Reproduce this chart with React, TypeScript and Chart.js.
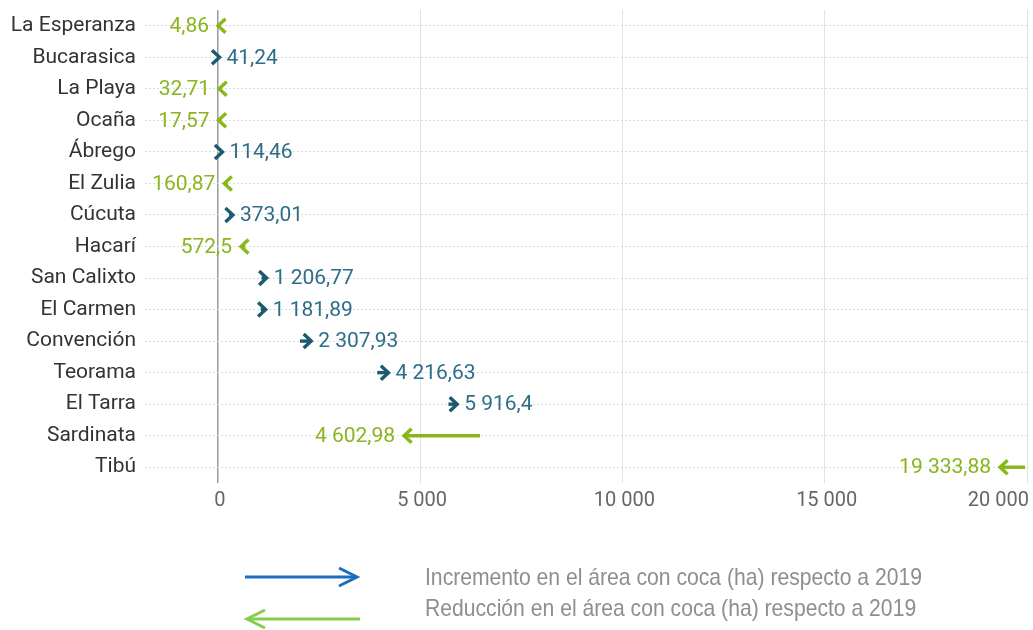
import React, { useEffect, useRef } from "react";
import { Chart, registerables } from "chart.js";

Chart.register(...registerables);

const municipios = [
  "La Esperanza", "Bucarasica", "La Playa", "Ocaña", "Ábrego", "El Zulia", "Cúcuta", "Hacarí",
  "San Calixto", "El Carmen", "Convención", "Teorama", "El Tarra", "Sardinata", "Tibú",
];
// Estimated 2019 values (arrow tails)
const area2019 = [60, 10, 90, 80, 50, 250, 280, 680, 1080, 1060, 2030, 3940, 5700, 6480, 19950];
// 2020 values (arrow heads, labelled)
const area2020 = [4.86, 41.24, 32.71, 17.57, 114.46, 160.87, 373.01, 572.5, 1206.77, 1181.89, 2307.93, 4216.63, 5916.4, 4602.98, 19333.88];
const xTicks = [0, 5000, 10000, 15000, 20000];
const legendLabels = [
  "Incremento en el área con coca (ha) respecto a 2019",
  "Reducción en el área con coca (ha) respecto a 2019",
];

const TEAL_ARROW = "#1d5a70";
const TEAL_TEXT = "#2e6d88";
const GREEN_ARROW = "#86b81a";
const GREEN_TEXT = "#8ab51f";
const LEGEND_BLUE = "#1b6dbd";
const LEGEND_GREEN = "#86cc4e";

function fmt(v: number): string {
  const s = String(v);
  const [ip, dp] = s.split(".");
  const intFmt = ip.replace(/\B(?=(\d{3})+(?!\d))/g, " ");
  return dp ? intFmt + "," + dp : intFmt;
}

function drawArrow(ctx: CanvasRenderingContext2D, x0: number, x1: number, y: number, color: string, lw: number, hl: number, hh: number) {
  const dir = x1 >= x0 ? 1 : -1;
  ctx.strokeStyle = color;
  ctx.lineWidth = lw;
  ctx.lineCap = "butt";
  ctx.lineJoin = "miter";
  ctx.beginPath();
  if (Math.abs(x1 - x0) > 1) {
    ctx.moveTo(x0, y);
    ctx.lineTo(x1 - dir * 1.5, y);
    ctx.stroke();
  }
  ctx.beginPath();
  ctx.moveTo(x1 - dir * hl, y - hh);
  ctx.lineTo(x1, y);
  ctx.lineTo(x1 - dir * hl, y + hh);
  ctx.stroke();
}

export default function App() {
  const ref = useRef<HTMLCanvasElement>(null);

  useEffect(() => {
    const canvas = ref.current;
    if (!canvas) return;

    const arrowPlugin = {
      id: "arrowsAndLabels",
      afterDatasetsDraw(chart: any) {
        const { ctx, scales } = chart;
        const x = scales.x;
        const y = scales.y;
        ctx.save();
        municipios.forEach((_, i) => {
          const x0 = x.getPixelForValue(area2019[i]);
          const x1 = x.getPixelForValue(area2020[i]);
          const yy = y.getPixelForValue(i);
          const up = area2020[i] >= area2019[i];
          drawArrow(ctx, x0, x1, yy, up ? TEAL_ARROW : GREEN_ARROW, 3.4, 7.5, 7);
          ctx.font = "21px Roboto";
          ctx.textBaseline = "middle";
          ctx.fillStyle = up ? TEAL_TEXT : GREEN_TEXT;
          if (up) {
            ctx.textAlign = "left";
            ctx.fillText(fmt(area2020[i]), x1 + 7, yy + 1);
          } else {
            ctx.textAlign = "right";
            ctx.fillText(fmt(area2020[i]), x1 - 9, yy + 1);
          }
        });
        ctx.restore();
      },
      afterDraw(chart: any) {
        const { ctx, scales, chartArea } = chart;
        const x = scales.x;
        ctx.save();
        // x tick labels
        ctx.font = "20px Roboto";
        ctx.fillStyle = "#666666";
        ctx.textBaseline = "middle";
        xTicks.forEach((v, i) => {
          const px = x.getPixelForValue(v);
          if (i === xTicks.length - 1) {
            ctx.textAlign = "right";
            ctx.fillText(fmt(v), px + 2, chartArea.bottom + 18);
          } else {
            ctx.textAlign = "center";
            ctx.fillText(fmt(v), px + 2, chartArea.bottom + 18);
          }
        });
        // legend
        const legendColors = [LEGEND_BLUE, LEGEND_GREEN];
        const arrowY = [577, 619];
        const textY = [578, 609];
        const legendWidth = 497;
        legendLabels.forEach((lab, i) => {
          if (i === 0) drawArrow(ctx, 245, 357, arrowY[i], legendColors[i], 3, 18, 9);
          else drawArrow(ctx, 360, 247, arrowY[i], legendColors[i], 3, 18, 9);
          ctx.font = "24px 'Liberation Sans', Arial, sans-serif";
          ctx.fillStyle = "#8e8e8e";
          ctx.textAlign = "left";
          ctx.textBaseline = "middle";
          const w = ctx.measureText(legendLabels[0]).width;
          const sx = legendWidth / w;
          ctx.save();
          ctx.translate(425, textY[i]);
          ctx.scale(sx, 1);
          ctx.fillText(lab, 0, 0);
          ctx.restore();
        });
        ctx.restore();
      },
    };

    const chart = new Chart(canvas, {
      type: "bar",
      data: {
        labels: municipios,
        datasets: [
          {
            data: municipios.map((_, i) => [area2019[i], area2020[i]]) as any,
            backgroundColor: "rgba(0,0,0,0)",
            borderWidth: 0,
          },
        ],
      },
      options: {
        indexAxis: "y",
        animation: false,
        responsive: false,
        maintainAspectRatio: false,
        layout: { padding: { left: 0, right: 6, top: 10, bottom: 120 } },
        plugins: { legend: { display: false }, tooltip: { enabled: false } },
        scales: {
          x: {
            type: "linear",
            min: -1800,
            max: 20000,
            afterBuildTicks: (s: any) => {
              s.ticks = xTicks.map((v) => ({ value: v }));
            },
            afterFit: (s: any) => {
              s.height = 27;
              s.paddingLeft = 0;
              s.paddingRight = 0;
            },
            ticks: { display: false },
            grid: {
              drawTicks: false,
              color: (c: any) => (c.tick && c.tick.value === 0 ? "#9a9a9a" : "#e2e2e2"),
              lineWidth: (c: any) => (c.tick && c.tick.value === 0 ? 1.5 : 1),
            },
            border: { display: false },
          },
          y: {
            type: "category",
            offset: true,
            afterFit: (s: any) => {
              s.width = 145;
              s.paddingTop = 0;
              s.paddingBottom = 0;
            },
            ticks: {
              font: { family: "Roboto", size: 21 },
              color: "#333333",
              padding: 9,
            },
            grid: { offset: false, drawTicks: false, color: "#dcdcdc" },
            border: { display: false, dash: [2, 2] },
          },
        },
      },
      plugins: [arrowPlugin],
    });
    return () => chart.destroy();
  }, []);

  return (
    <div style={{ position: "absolute", left: 0, top: 0, width: 1033, height: 630, background: "#fff" }}>
      <canvas ref={ref} width={1033} height={630} style={{ display: "block", width: 1033, height: 630 }} />
    </div>
  );
}
